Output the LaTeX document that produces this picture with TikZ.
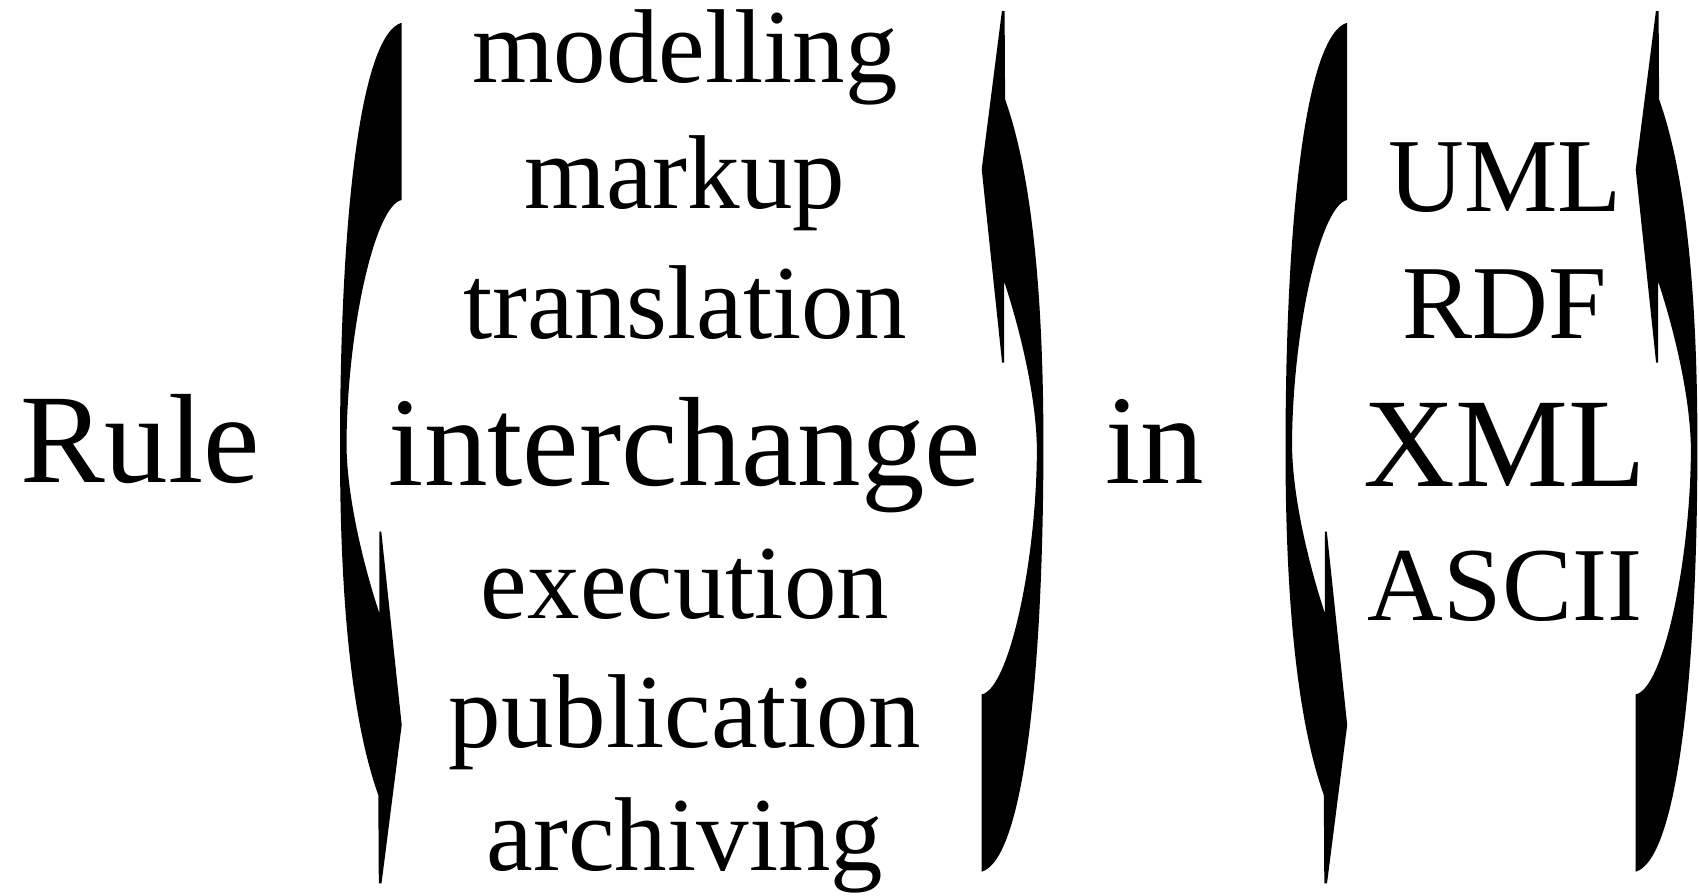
\documentclass[tikz,border=0pt]{standalone}
\usepackage{fontspec}
\setmainfont{Liberation Serif}
\begin{document}
\begin{tikzpicture}[x=1pt,y=-1pt,
  word/.style={inner sep=0pt,outer sep=0pt,anchor=base},
  small/.style={word,font=\fontsize{105}{110}\selectfont},
  big/.style={word,font=\fontsize{127}{130}\selectfont},
  glyphfill/.style={fill=black,draw=none},
  angleglyph/.pic={
    \fill[glyphfill]
      (0,-430.3)
      .. controls (-41.7,-418) and (-61.7,-233) .. (-61.7,-3)
      .. controls (-61.7,167) and (-46.7,277) .. (-23.4,342)
      -- (-22.9,430.3) -- (-20.2,430.3) -- (0,272)
      -- (-20.4,78.7) -- (-22.4,78.7) -- (-22.4,160)
      .. controls (-36.7,117) and (-54.7,47) .. (-55.2,-8)
      .. controls (-54.7,-123) and (-26.7,-248) .. (0,-253)
      -- cycle;
  }]
\useasboundingbox[fill=white] (0,0) rectangle (1699,895);

% opening and closing delimiters
\pic at (401.7,453) {angleglyph};
\pic[rotate=180] at (981.7,441.4) {angleglyph};
\pic at (1347.2,453) {angleglyph};
\pic[rotate=180] at (1635.7,441.4) {angleglyph};

% left word
\node[big,anchor=base west] (rule) at (20,482) {Rule};

% first choice column
\node[small] (modelling)   at (685,82)  {modelling};
\node[small] (markup)      at (685,208) {markup};
\node[small] (translation) at (685,338) {translation};
\node[big]   (interchange) at (685,485) {interchange};
\node[small] (execution)   at (685,618) {execution};
\node[small] (publication) at (685,747) {publication};
\node[small] (archiving)   at (685,870) {archiving};

% connecting word
\node[big] (in) at (1155,483) {in};

% second choice column
\node[small] (uml)   at (1505,211) {UML};
\node[small] (rdf)   at (1505,338) {RDF};
\node[big]   (xml)   at (1505,486) {XML};
\node[small] (ascii) at (1505,620) {ASCII};
\end{tikzpicture}
\end{document}
